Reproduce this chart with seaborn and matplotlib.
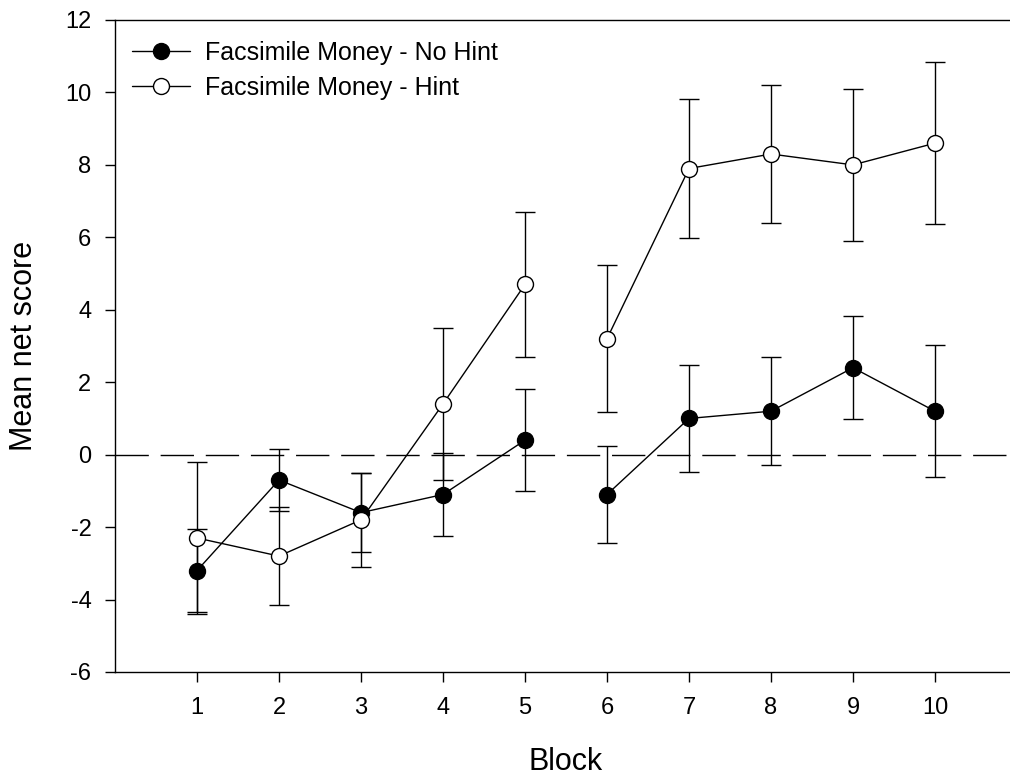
import numpy as np
import pandas as pd
import matplotlib
matplotlib.use('Agg')
import matplotlib.pyplot as plt
from matplotlib.lines import Line2D
import seaborn as sns

blocks = [1, 2, 3, 4, 5, 6, 7, 8, 9, 10]
session = [1, 1, 1, 1, 1, 2, 2, 2, 2, 2]  # the line breaks between block 5 and 6
no_hint = [-3.2, -0.7, -1.6, -1.1, 0.4, -1.1, 1.0, 1.2, 2.4, 1.2]
no_hint_err = [1.15, 0.85, 1.1, 1.15, 1.4, 1.35, 1.47, 1.49, 1.42, 1.82]
hint = [-2.3, -2.8, -1.8, 1.4, 4.7, 3.2, 7.9, 8.3, 8.0, 8.6]
hint_err = [2.1, 1.35, 1.3, 2.1, 2.0, 2.03, 1.93, 1.9, 2.1, 2.24]
groups = ['Facsimile Money - No Hint', 'Facsimile Money - Hint']
faces = ['black', 'white']

sns.set_style('ticks', {'axes.edgecolor': 'black', 'xtick.color': 'black',
                        'ytick.color': 'black', 'text.color': 'black',
                        'axes.labelcolor': 'black'})
plt.rcParams['font.family'] = ['Liberation Sans', 'DejaVu Sans']
plt.rcParams['axes.unicode_minus'] = False

df = pd.DataFrame({
    'Block': blocks * 2,
    'Score': no_hint + hint,
    'Err': no_hint_err + hint_err,
    'Session': session * 2,
    'Group': [groups[0]] * 10 + [groups[1]] * 10,
})

fig = plt.figure(figsize=(10.1, 7.75), dpi=100)
ax = fig.add_axes([115 / 1010, 103 / 775, 902 / 1010, 652 / 775])

ax.axhline(0, color='black', lw=1, dashes=(24, 8.5), zorder=1)

handles = []
for group, face in zip(groups, faces):
    d = df[df['Group'] == group]
    ax.errorbar(d['Block'], d['Score'], yerr=d['Err'], fmt='none', ecolor='black',
                elinewidth=1, capsize=7, capthick=1, zorder=2)
    sns.lineplot(data=d, x='Block', y='Score', units='Session', estimator=None,
                 color='black', lw=1, marker='o', markersize=11.5,
                 markerfacecolor=face, markeredgecolor='black', markeredgewidth=1,
                 ax=ax, zorder=3, legend=False)
    handles.append(Line2D([], [], color='black', lw=1, marker='o', markersize=11.5,
                          markerfacecolor=face, markeredgecolor='black'))

ax.legend(handles, groups, loc='upper left', bbox_to_anchor=(0.019, 0.968),
          frameon=False, fontsize=18, handlelength=2.3, handletextpad=0.6,
          labelspacing=0.43, borderpad=0, borderaxespad=0)

ax.set_xlim(0, 11)
ax.set_ylim(-6, 12)
ax.set_xticks(blocks)
ax.set_yticks(np.arange(-6, 13, 2))
ax.tick_params(direction='out', length=7, width=1, labelsize=17)
ax.tick_params(axis='x', pad=11)
ax.tick_params(axis='y', pad=10)
for s in ax.spines.values():
    s.set_linewidth(1)

ax.set_xlabel('Block', fontsize=22, labelpad=20)
ax.set_ylabel('Mean net score', fontsize=22, labelpad=19)

fig.savefig('out.png', dpi=100)
